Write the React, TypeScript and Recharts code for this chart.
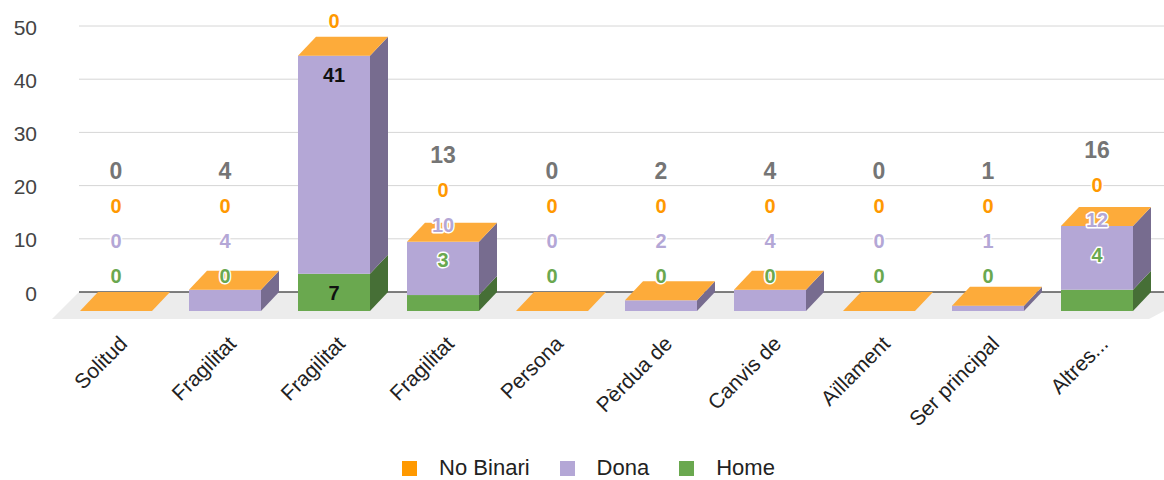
import React from 'react';
import {
  BarChart,
  Bar,
  XAxis,
  YAxis,
  CartesianGrid,
  Legend,
  LabelList,
} from 'recharts';

const CATEGORIES = [
  'Solitud',
  'Fragilitat',
  'Fragilitat',
  'Fragilitat',
  'Persona',
  'Pèrdua de',
  'Canvis de',
  'Aïllament',
  'Ser principal',
  'Altres...',
];
const HOME = [0, 0, 7, 3, 0, 0, 0, 0, 0, 4];
const DONA = [0, 4, 41, 10, 0, 2, 4, 0, 1, 12];
const NO_BINARI = [0, 0, 0, 0, 0, 0, 0, 0, 0, 0];
const Y_TICKS = [0, 10, 20, 30, 40, 50];

const data = CATEGORIES.map((name, i) => ({
  name,
  home: HOME[i],
  dona: DONA[i],
  noBinari: NO_BINARI[i],
}));

const FONT = '"Liberation Sans", Arial, sans-serif';

// layout
const CHART_W = 1169;
const CHART_H = 480;
const TOP = 26;
const PLOT_H = 266;
const Y_MAX = 50;
const LEGEND_H = 24;
const XAXIS_H = CHART_H - TOP - PLOT_H - LEGEND_H;
const BASE = TOP + PLOT_H;
const UNIT = PLOT_H / Y_MAX;

// 3d depth offset: front face is shifted left / down from the back plane
const DX = 18;
const DY = 19;

const COLORS = {
  home: { front: '#6aa84f', side: '#466f36', legend: '#6aa84f' },
  dona: { front: '#b4a7d6', side: '#776c8f', legend: '#b4a7d6' },
  noBinari: { front: '#ff9900', side: '#b86e00', top: '#fdab3a', legend: '#ff9900' },
};

const makeShape = (c: { front: string; side: string; top?: string }) => (props: any) => {
  const { x, y, width, height } = props;
  if (x == null || y == null) return null;
  const fx = x - DX;
  const fy = y + DY;
  return (
    <g>
      {height > 0 && (
        <>
          <rect x={fx} y={fy} width={width} height={height} fill={c.front} />
          <polygon
            points={`${fx + width},${fy} ${x + width},${y} ${x + width},${y + height} ${fx + width},${fy + height}`}
            fill={c.side}
          />
        </>
      )}
      {c.top && (
        <polygon
          points={`${fx},${fy} ${x},${y} ${x + width},${y} ${fx + width},${fy}`}
          fill={c.top}
        />
      )}
    </g>
  );
};

const yBack = (v: number) => BASE - v * UNIT;

// data labels, stacked bottom-up and pushed apart like the sheets 3d chart
const ColumnLabels = (props: any) => {
  const { x, width, index } = props;
  if (x == null || index == null) return null;
  const cx = x - DX + width / 2;
  const segs = [
    { v: HOME[index], color: COLORS.home.legend },
    { v: DONA[index], color: COLORS.dona.legend },
    { v: NO_BINARI[index], color: COLORS.noBinari.legend },
  ];
  let lo = 0;
  let prev: number | null = null;
  const out: React.ReactNode[] = [];
  segs.forEach((s, k) => {
    const hi = lo + s.v;
    const segH = s.v * UNIT;
    const fits = segH >= 30;
    const desired = fits ? yBack(hi) + DY + 19 : yBack(hi) - 16;
    let ly = desired;
    let inside = fits;
    if (prev != null && prev - 35 < desired) {
      ly = prev - 35;
      inside = false;
    }
    out.push(
      <text
        key={k}
        x={cx}
        y={ly}
        textAnchor='middle'
        dominantBaseline='central'
        fontFamily={FONT}
        fontSize={20}
        fontWeight='bold'
        fill={inside ? '#111' : s.color}
        stroke={inside ? 'none' : '#fff'}
        strokeWidth={3}
        strokeLinejoin='round'
        paintOrder='stroke'
      >
        {s.v}
      </text>
    );
    prev = ly;
    lo = hi;
  });
  const total = lo;
  const ty = Math.min(yBack(total) - 16, (prev as number) - 35);
  // the total of the tallest column falls above the chart, as in the original
  if (ty > 10) {
    out.push(
      <text
        key='total'
        x={cx}
        y={ty}
        textAnchor='middle'
        dominantBaseline='central'
        fontFamily={FONT}
        fontSize={23}
        fontWeight='bold'
        fill='#757575'
      >
        {total}
      </text>
    );
  }
  return <g>{out}</g>;
};

const GridLine = (props: any) => {
  const { x1, x2, y1 } = props;
  if (Math.abs(y1 - BASE) < 1) {
    // floor + zero line
    return (
      <g>
        <polygon
          points={`${x1},${y1} ${x2 + 30},${y1} ${x2 - 20},${y1 + 27} ${x1 - 27},${y1 + 27}`}
          fill='#ececec'
        />
        <line x1={x1} x2={x2} y1={y1} y2={y1} stroke='#555' strokeWidth={1.5} />
      </g>
    );
  }
  return <line x1={x1} x2={x2} y1={y1} y2={y1} stroke='#d6d6d6' strokeWidth={1} />;
};

const YTick = (props: any) => {
  const { y, payload } = props;
  return (
    <text
      x={37}
      y={y}
      dy={1}
      textAnchor='end'
      dominantBaseline='central'
      fontFamily={FONT}
      fontSize={21}
      fill='#444'
    >
      {payload.value}
    </text>
  );
};

const XTick = (props: any) => {
  const { x, payload } = props;
  const px = x - DX + 13;
  const py = BASE + 53;
  return (
    <text
      x={px}
      y={py}
      textAnchor='end'
      fontFamily={FONT}
      fontSize={21}
      fill='#222'
      transform={`rotate(-45 ${px} ${py})`}
    >
      {payload.value}
    </text>
  );
};

const LEGEND_ITEMS = [
  { key: 'noBinari', label: 'No Binari' },
  { key: 'dona', label: 'Dona' },
  { key: 'home', label: 'Home' },
];

const LegendContent = () => (
  <div
    style={{
      display: 'flex',
      justifyContent: 'center',
      alignItems: 'center',
      height: LEGEND_H,
      fontFamily: FONT,
      fontSize: 22,
      color: '#222',
      paddingLeft: 8,
    }}
  >
    {LEGEND_ITEMS.map((it, i) => (
      <div
        key={it.key}
        style={{ display: 'flex', alignItems: 'center', marginLeft: i ? 30 : 0 }}
      >
        <span
          style={{
            width: 15,
            height: 15,
            background: (COLORS as any)[it.key].legend,
            marginRight: 22,
            display: 'inline-block',
          }}
        />
        <span>{it.label}</span>
      </div>
    ))}
  </div>
);

export default function App() {
  return (
    <div
      style={{
        position: 'absolute',
        left: 0,
        top: 0,
        width: 1164,
        height: CHART_H,
        overflow: 'hidden',
        background: '#fff',
      }}
    >
      <BarChart
        width={CHART_W}
        height={CHART_H}
        data={data}
        margin={{ top: TOP, right: 0, bottom: 0, left: 0 }}
        barSize={72}
      >
        <CartesianGrid vertical={false} horizontal={GridLine} />
        <XAxis
          dataKey='name'
          axisLine={false}
          tickLine={false}
          height={XAXIS_H}
          interval={0}
          tick={XTick}
        />
        <YAxis
          domain={[0, Y_MAX]}
          ticks={Y_TICKS}
          width={79}
          axisLine={false}
          tickLine={false}
          tick={YTick}
        />
        <Legend
          verticalAlign='bottom'
          height={LEGEND_H}
          content={LegendContent}
        />
        <Bar
          dataKey='home'
          stackId='a'
          isAnimationActive={false}
          shape={makeShape(COLORS.home)}
        />
        <Bar
          dataKey='dona'
          stackId='a'
          isAnimationActive={false}
          shape={makeShape(COLORS.dona)}
        />
        <Bar
          dataKey='noBinari'
          stackId='a'
          isAnimationActive={false}
          shape={makeShape(COLORS.noBinari)}
        >
          <LabelList dataKey='noBinari' content={ColumnLabels} />
        </Bar>
      </BarChart>
    </div>
  );
}
